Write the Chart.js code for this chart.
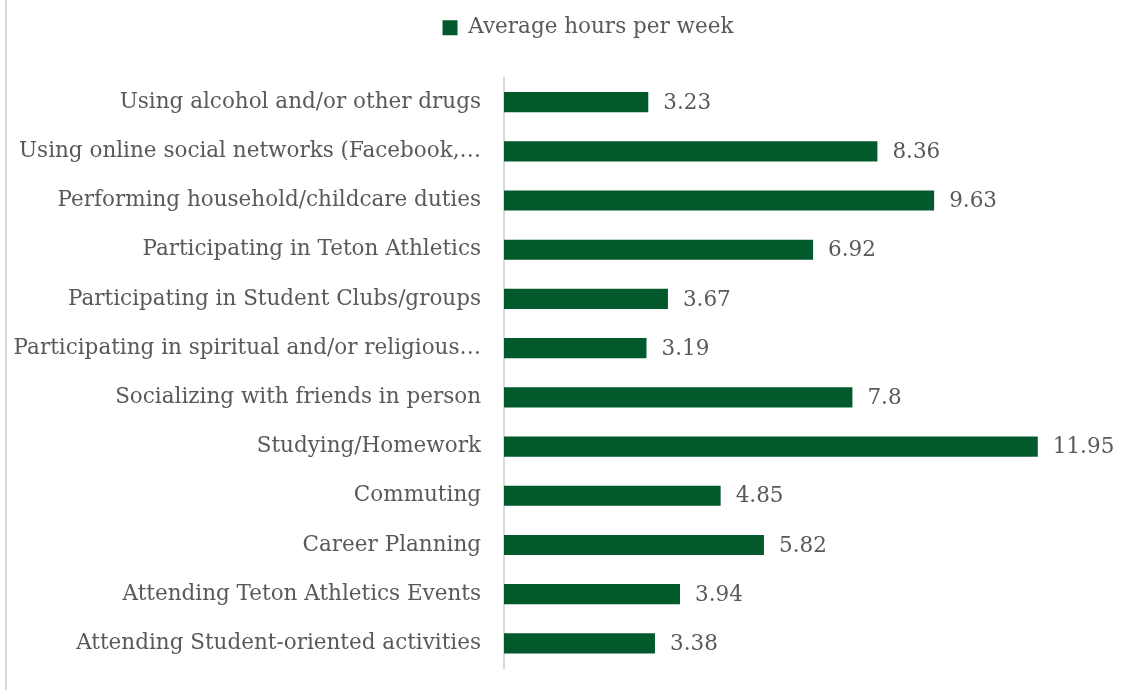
<!DOCTYPE html>
<html>
<head>
<meta charset="utf-8">
<script src="https://cdn.jsdelivr.net/npm/chart.js@4"></script>
<style>
  html, body { margin: 0; padding: 0; background: #fff; }
  #wrap { position: relative; width: 1140px; height: 690px; }
  #edge { position: absolute; left: 5px; top: 0; width: 2px; height: 690px; background: #d9d9d9; }
</style>
</head>
<body>
<div id="wrap">
  <div id="edge"></div>
  <canvas id="hoursChart" width="1140" height="690"></canvas>
</div>
<script>
// Activities, top to bottom
const ACTIVITIES = [
    'Using alcohol and/or other drugs',
    'Using online social networks (Facebook,\u2026',
    'Performing household/childcare duties',
    'Participating in Teton Athletics',
    'Participating in Student Clubs/groups',
    'Participating in spiritual and/or religious\u2026',
    'Socializing with friends in person',
    'Studying/Homework',
    'Commuting',
    'Career Planning',
    'Attending Teton Athletics Events',
    'Attending Student-oriented activities'
];
const HOURS_PER_WEEK = [3.23, 8.36, 9.63, 6.92, 3.67, 3.19, 7.8, 11.95, 4.85, 5.82, 3.94, 3.38];
const SERIES_NAME = 'Average hours per week';

const GREEN = '#02592b';
const TEXT_GRAY = '#595959';
const FONT = "'DejaVu Serif', 'Liberation Serif', serif";
const FONT_SIZE = 21.5;

// draws the value just past the end of each bar
const valueLabels = {
    id: 'valueLabels',
    afterDatasetsDraw(chart) {
        const ctx = chart.ctx;
        const meta = chart.getDatasetMeta(0);
        ctx.save();
        ctx.font = FONT_SIZE + 'px ' + FONT;
        ctx.fillStyle = TEXT_GRAY;
        ctx.textAlign = 'left';
        ctx.textBaseline = 'middle';
        meta.data.forEach((bar, i) => {
            ctx.fillText(String(HOURS_PER_WEEK[i]), bar.x + 15, bar.y + 1);
        });
        ctx.restore();
    }
};

// extra room under the legend, and legend shifted a bit to the right
const legendGap = {
    id: 'legendGap',
    beforeInit(chart) {
        const fit = chart.legend.fit;
        chart.legend.fit = function () {
            fit.bind(chart.legend)();
            this.height += 29;
        };
    },
    beforeDraw(chart) {
        chart.legend.left = 136;
    }
};

document.addEventListener('DOMContentLoaded', () => {
    const ctx = document.getElementById('hoursChart').getContext('2d');
    new Chart(ctx, {
        type: 'bar',
        data: {
            labels: ACTIVITIES,
            datasets: [{
                label: SERIES_NAME,
                data: HOURS_PER_WEEK,
                backgroundColor: GREEN,
                borderWidth: 0,
                categoryPercentage: 1,
                barPercentage: 0.41
            }]
        },
        options: {
            indexAxis: 'y',
            responsive: false,
            animation: false,
            layout: {
                padding: { top: 7, right: 100, bottom: 22, left: 10 }
            },
            scales: {
                x: {
                    display: false,
                    min: 0,
                    max: 12
                },
                y: {
                    afterFit(scale) {
                        scale.width = 494;
                        scale.paddingTop = 0;
                        scale.paddingBottom = 0;
                    },
                    grid: { display: false },
                    border: { color: '#d9d9d9', width: 2 },
                    ticks: {
                        color: TEXT_GRAY,
                        padding: 15,
                        font: { family: FONT, size: FONT_SIZE }
                    }
                }
            },
            plugins: {
                legend: {
                    position: 'top',
                    labels: {
                        color: TEXT_GRAY,
                        boxWidth: 15,
                        boxHeight: 15,
                        padding: 10,
                        font: { family: FONT, size: FONT_SIZE }
                    }
                },
                tooltip: { enabled: false }
            }
        },
        plugins: [valueLabels, legendGap]
    });
});
</script>
</body>
</html>
